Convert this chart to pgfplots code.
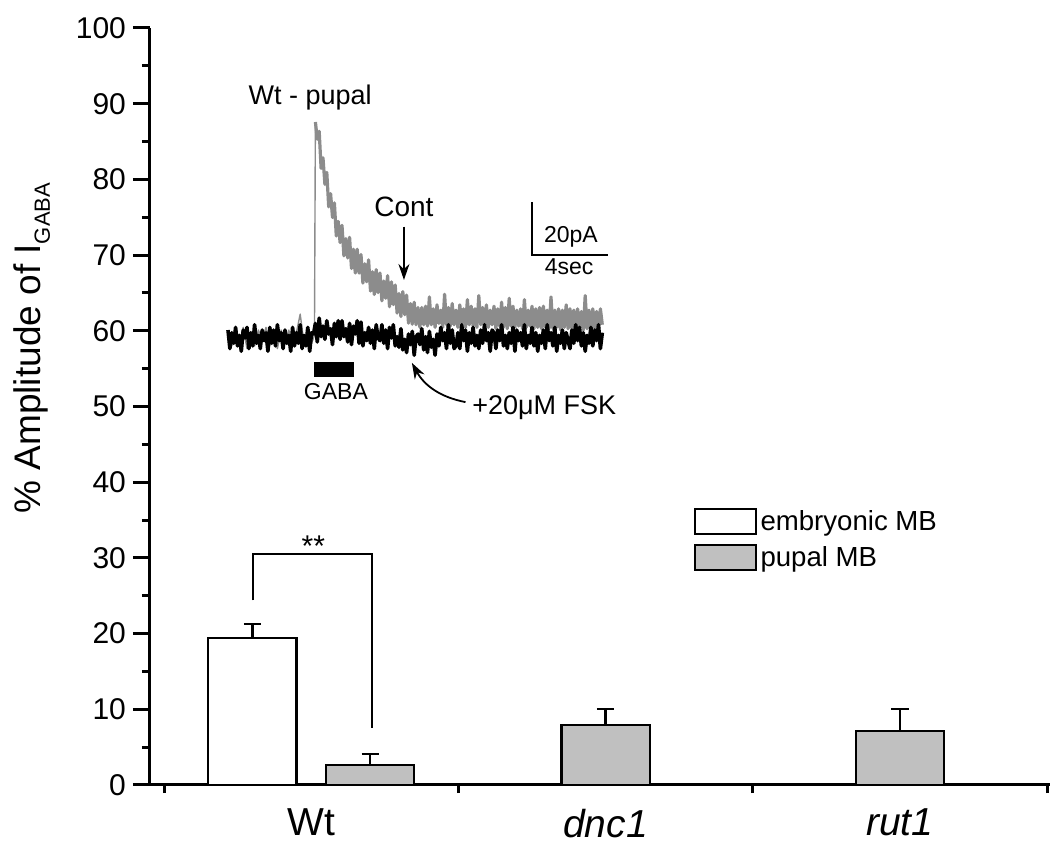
\documentclass[border=0pt]{standalone}
\usepackage{pgfplots}
\pgfplotsset{compat=1.18}
\usepackage{fontspec}
\setmainfont{Liberation Sans}
\usetikzlibrary{arrows.meta}
\definecolor{bargray}{RGB}{192,192,192}
\definecolor{tracegray}{RGB}{140,140,140}
\begin{document}
\begin{tikzpicture}
\useasboundingbox (-75pt,-33pt) rectangle (450pt,392.5pt);
% ---------------- main bar axis ----------------
\begin{axis}[
  at={(0pt,0pt)}, anchor=south west,
  scale only axis, width=450pt, height=378.5pt,
  xmin=0.452, xmax=3.51, ymin=0, ymax=100,
  axis x line*=bottom, axis y line*=left,
  axis line style={line width=1.5pt, black},
  ytick={0,10,...,100}, minor ytick={5,15,...,95},
  xtick={1,2,3}, xticklabels={Wt,\textit{dnc1},\textit{rut1}},
  minor xtick={0.5,1.5,2.5,3.5},
  tick align=outside,
  major tick length=8.5pt, minor tick length=4pt,
  tick style={line width=1.5pt, black},
  major x tick style={draw=none},
  yticklabel style={font=\fontsize{15}{16}\selectfont},
  xticklabel style={font=\fontsize{19.5}{22}\selectfont},
  /pgf/number format/assume math mode=true,
  clip=false,
  legend style={at={(rel axis cs:0.6035,0.3686)}, anchor=north west, draw=none, fill=none,
    inner sep=0pt, row sep=2.5pt, font=\fontsize{13.8}{15}\selectfont,
    /tikz/every even column/.append style={column sep=5pt}},
  legend cell align=left,
]
\addlegendimage{legend image code/.code={\draw[fill=white, draw=black, line width=1pt] (0pt,-6.25pt) rectangle (30.5pt,6.25pt);}}
\addlegendentry{embryonic MB}
\addlegendimage{legend image code/.code={\draw[fill=bargray, draw=black, line width=1pt] (0pt,-6.25pt) rectangle (30.5pt,6.25pt);}}
\addlegendentry{pupal MB}
% embryonic MB
\addplot[ybar, bar width=0.3, bar shift=0pt, fill=white, draw=black, line width=1.1pt, forget plot,
  error bars/.cd, y dir=plus, y explicit,
  error bar style={line width=1.1pt, black},
  error mark options={rotate=90, mark size=4.3pt, line width=1.1pt, black}]
  coordinates {(0.8,19.4) +- (0,1.9)};
% pupal MB
\addplot[ybar, bar width=0.3, bar shift=0pt, fill=bargray, draw=black, line width=1.1pt, forget plot,
  error bars/.cd, y dir=plus, y explicit,
  error bar style={line width=1.1pt, black},
  error mark options={rotate=90, mark size=4.3pt, line width=1.1pt, black}]
  coordinates {(1.2,2.6) +- (0,1.5) (2,7.9) +- (0,2.1) (3,7.1) +- (0,2.9)};
% significance bracket
\draw[line width=1pt] (axis cs:0.803,24.4) |- (axis cs:1.207,30.5) -- (axis cs:1.207,7.5);
\node[font=\fontsize{15}{16}\selectfont] at (axis cs:1.007,31.6) {**};
% y label
\node[rotate=90, font=\fontsize{18.5}{20}\selectfont] at (rel axis cs:-0.131,0.577)
  {\% Amplitude of I\raisebox{-0.45ex}{\fontsize{11}{12}\selectfont GABA}};
\end{axis}
% ---------------- inset current traces (s, pA) ----------------
\begin{axis}[
  at={(0pt,0pt)}, anchor=south west,
  scale only axis, width=450pt, height=378.5pt,
  xmin=-4.105, xmax=43.263, ymin=-168.68, ymax=116.98,
  hide axis, clip=false,
]
% control (gray) trace: baseline and GABA onset
\addplot[tracegray, line width=0.7pt, line join=round, mark=none] coordinates {
(0.0,2) (0.2,-3) (0.4,3) (0.6,-2) (0.8,4) (1.0,-4) (1.2,1) (1.4,-3) (1.6,3) (1.8,-1)
(2.0,4) (2.2,-3) (2.4,2) (2.6,-4) (2.8,3) (3.0,-2) (3.2,3) (3.4,-3) (3.6,2) (3.8,9)
(4.0,-2) (4.2,3) (4.4,-2) (4.55,1) (4.6,81.5)
};
% control (gray) trace: decay and plateau
\addplot[tracegray, line width=1.6pt, line join=round, mark=none] coordinates {
(4.6,81.5) (4.7,75) (4.8,78) (4.9,64) (5.0,68) (5.1,58) (5.2,62.5) (5.3,49.5) (5.4,54.5) (5.5,45.5)
(5.6,51) (5.7,38.5) (5.8,44) (5.9,36) (6.0,42.5) (6.1,31) (6.2,37.5) (6.3,30.2) (6.4,38) (6.5,26.2)
(6.6,33.5) (6.7,24.5) (6.8,33.5) (6.9,24.5) (7.0,31.5) (7.1,20.7) (7.2,28) (7.3,21.2) (7.4,29.5) (7.5,17.7)
(7.6,25) (7.7,16.4) (7.8,25.8) (7.9,17.1) (8.0,24.5) (8.1,14) (8.2,21.5) (8.3,15) (8.4,23.5) (8.5,11.8)
(8.6,21.2) (8.7,12.6) (8.8,20) (8.9,9.4) (9.0,16.8) (9.1,8.1) (9.2,17.5) (9.3,8.8) (9.4,16.2) (9.5,5.6)
(9.6,13) (9.7,5.2) (9.8,13.5) (9.9,5) (10.0,11.5) (10.1,4) (10.2,11.5) (10.3,5) (10.4,12) (10.5,4.5)
(10.6,15.5) (10.7,5) (10.8,11) (10.9,4) (11.0,12.5) (11.1,5.5) (11.2,10.5) (11.3,4) (11.4,16.5) (11.5,5)
(11.6,11.5) (11.7,4.5) (11.8,13) (11.9,5) (12.0,10.5) (12.1,4) (12.2,12.5) (12.3,5.5) (12.4,11) (12.5,4)
(12.6,14.5) (12.7,5) (12.8,12) (12.9,4.5) (13.0,11) (13.1,4) (13.2,16) (13.3,5) (13.4,11.5) (13.5,4.5)
(13.6,12.5) (13.7,4) (13.8,10.5) (13.9,5) (14.0,12) (14.1,3.5) (14.2,11) (14.3,4.5) (14.4,13.5) (14.5,4)
(14.6,11.5) (14.7,3.5) (14.8,15) (14.9,4.5) (15.0,12) (15.1,4) (15.2,10.5) (15.3,4.5) (15.4,11) (15.5,3.5)
(15.6,14.5) (15.7,4) (15.8,10.5) (15.9,4.5) (16.0,12) (16.1,3.5) (16.2,11) (16.3,4) (16.4,11.5) (16.5,3.5)
(16.6,12) (16.7,4) (16.8,10.5) (16.9,3.5) (17.0,15.5) (17.1,3.5) (17.2,10.5) (17.3,4) (17.4,11) (17.5,3)
(17.6,10.5) (17.7,4) (17.8,12.5) (17.9,3.5) (18.0,11) (18.1,3.5) (18.2,10.5) (18.3,3) (18.4,11) (18.5,4)
(18.6,10) (18.7,3) (18.8,16) (18.9,3.5) (19.0,10.5) (19.1,3) (19.2,11) (19.3,3.5) (19.4,10) (19.5,4)
(19.6,11) (19.7,5)
};
% forskolin (black) trace
\addplot[black, line width=1.8pt, line join=round, mark=none] coordinates {
(0.0,3) (0.1,-4) (0.2,2) (0.3,-2) (0.4,4) (0.5,-3) (0.6,1) (0.7,-5) (0.8,3) (0.9,0)
(1.0,4) (1.1,-4) (1.2,2) (1.3,-3) (1.4,5) (1.5,-2) (1.6,1) (1.7,-4) (1.8,3) (1.9,-1)
(2.0,2) (2.1,-5) (2.2,4) (2.3,-2) (2.4,3) (2.5,-3) (2.6,5) (2.7,-1) (2.8,2) (2.9,-4)
(3.0,3) (3.1,-2) (3.2,1) (3.3,-5) (3.4,4) (3.5,-3) (3.6,2) (3.7,-2) (3.8,5) (3.9,-4)
(4.0,1) (4.1,-3) (4.2,4) (4.3,-5) (4.4,2) (4.5,1.5) (4.6,5.5) (4.7,-1.5) (4.8,7.5) (4.9,0.5)
(5.0,4.5) (5.1,-0.5) (5.2,6.5) (5.3,1.5) (5.4,3.5) (5.5,-2.5) (5.6,5.5) (5.7,0.5) (5.8,6.5) (5.9,-0.5)
(6.0,6.5) (6.1,0.5) (6.2,3.5) (6.3,-1.5) (6.4,5.5) (6.5,-2.5) (6.6,4.5) (6.7,1.5) (6.8,6.5) (6.9,-2)
(7.0,6) (7.1,-3) (7.2,2) (7.3,-1) (7.4,4) (7.5,-2) (7.6,3) (7.7,-4) (7.8,5) (7.9,0)
(8.0,-1) (8.1,5) (8.2,-2) (8.3,3) (8.4,-4) (8.5,4) (8.6,0) (8.7,5) (8.8,-3) (8.9,0.5)
(9.0,-3.5) (9.1,3.5) (9.2,-4.5) (9.3,-0.5) (9.4,-5.5) (9.5,1.5) (9.6,-2.5) (9.7,2.5) (9.8,-6.5) (9.9,0.5)
(10.0,1.5) (10.1,-2.5) (10.2,3.5) (10.3,-4.5) (10.4,0.5) (10.5,-5.5) (10.6,2.5) (10.7,-3.5) (10.8,-0.5) (10.9,-6.5)
(11.0,1.5) (11.1,-3) (11.2,4) (11.3,-1) (11.4,2) (11.5,-4) (11.6,5) (11.7,-2) (11.8,3) (11.9,-4)
(12.0,-3) (12.1,2) (12.2,-4) (12.3,5) (12.4,-1) (12.5,3) (12.6,-5) (12.7,2) (12.8,-2) (12.9,4)
(13.0,-3) (13.1,1) (13.2,-4) (13.3,3) (13.4,-2) (13.5,5) (13.6,-1) (13.7,2) (13.8,-5) (13.9,3)
(14.0,2) (14.1,-4) (14.2,3) (14.3,-1) (14.4,5) (14.5,-3) (14.6,1) (14.7,-4) (14.8,2) (14.9,-2)
(15.0,4) (15.1,-5) (15.2,3) (15.3,-1) (15.4,2) (15.5,-3) (15.6,5) (15.7,-4) (15.8,1) (15.9,-2)
(16.0,4) (16.1,-3) (16.2,2) (16.3,-5) (16.4,1) (16.5,-2) (16.6,3) (16.7,-4) (16.8,5) (16.9,-1)
(17.0,2) (17.1,-3) (17.2,4) (17.3,-5) (17.4,1) (17.5,-2) (17.6,3) (17.7,-4) (17.8,2) (17.9,-1)
(18.0,-4) (18.1,3) (18.2,-2) (18.3,5) (18.4,-1) (18.5,4) (18.6,-3) (18.7,2) (18.8,-5) (18.9,1)
(19.0,-2) (19.1,4) (19.2,-3) (19.3,3) (19.4,-1) (19.5,5) (19.6,-4) (19.7,2)
};
% annotations of the inset
\node[font=\fontsize{13.5}{15}\selectfont] at (axis cs:4.32,90.6) {Wt - pupal};
\node[font=\fontsize{14}{15}\selectfont] at (axis cs:9.26,49.4) {Cont};
\draw[line width=0.9pt, -{Stealth[length=8pt,width=5.5pt]}] (axis cs:9.26,42) -- (axis cs:9.26,21.9);
\draw[line width=0.7pt] (axis cs:16,51.3) -- (axis cs:16,31.3) -- (axis cs:20,31.3);
\node[font=\fontsize{11.5}{13}\selectfont] at (axis cs:18.05,38.1) {20pA};
\node[font=\fontsize{11.5}{13}\selectfont] at (axis cs:17.95,26.8) {4sec};
\fill[black] (axis cs:4.53,-9.1) rectangle (axis cs:6.63,-14.7);
\node[font=\fontsize{11.5}{13}\selectfont] at (axis cs:5.68,-20.4) {GABA};
\draw[line width=0.9pt, -{Stealth[length=8pt,width=5.5pt]}] (axis cs:12.5,-24.2) to[bend left=25] (axis cs:9.68,-9.4);
\node[font=\fontsize{13.5}{15}\selectfont, anchor=west, inner sep=0pt] at (axis cs:12.84,-26.4) {+20μM FSK};
\end{axis}
\end{tikzpicture}
\end{document}
